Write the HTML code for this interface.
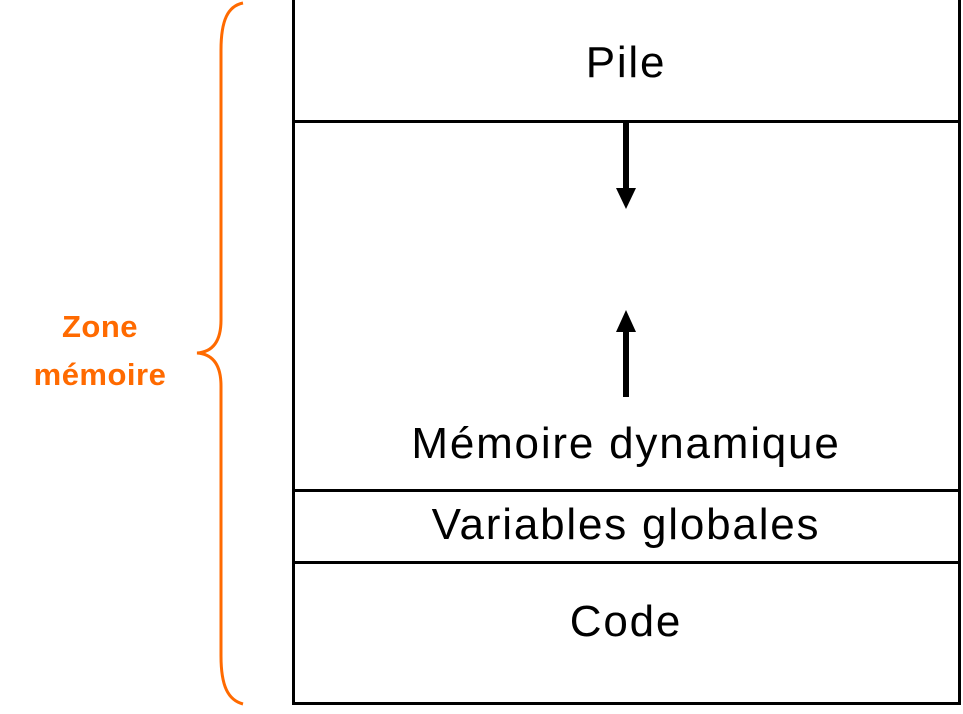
<!DOCTYPE html>
<html><head><meta charset="utf-8"><style>
html,body{margin:0;padding:0;background:#fff;}
body{width:963px;height:714px;position:relative;overflow:hidden;font-family:"Liberation Sans",sans-serif;}
.t{position:absolute;left:292px;width:668px;text-align:center;font-size:44px;letter-spacing:1.8px;color:#000;line-height:1;}
</style></head><body>
<svg width="963" height="714" style="position:absolute;left:0;top:0">
<rect x="293.5" y="-2" width="666" height="705.5" fill="none" stroke="#000" stroke-width="3"/>
<line x1="292" y1="121.5" x2="961" y2="121.5" stroke="#000" stroke-width="3"/>
<line x1="292" y1="490.5" x2="961" y2="490.5" stroke="#000" stroke-width="3"/>
<line x1="292" y1="562.5" x2="961" y2="562.5" stroke="#000" stroke-width="3"/>
<line x1="626" y1="121" x2="626" y2="190" stroke="#000" stroke-width="6"/>
<polygon points="616,188 636,188 626,209" fill="#000"/>
<line x1="626" y1="330" x2="626" y2="397" stroke="#000" stroke-width="6"/>
<polygon points="616,332 636,332 626,310" fill="#000"/>
<path d="M243,3 C228,6 221,20 221,50 L221,320 C221,342 212,352 197,353 C212,354 221,364 221,386 L221,656 C221,686 228,700 243,704" fill="none" stroke="#ff6a00" stroke-width="3"/>
</svg>
<div class="t" style="top:41px">Pile</div>
<div class="t" style="top:422px">Mémoire dynamique</div>
<div class="t" style="top:503px">Variables globales</div>
<div class="t" style="top:600px">Code</div>
<div style="position:absolute;left:0px;width:200px;top:303px;text-align:center;color:#ff6a00;font-weight:bold;font-size:31px;letter-spacing:0.5px;line-height:48px;">Zone<br>mémoire</div>
</body></html>
